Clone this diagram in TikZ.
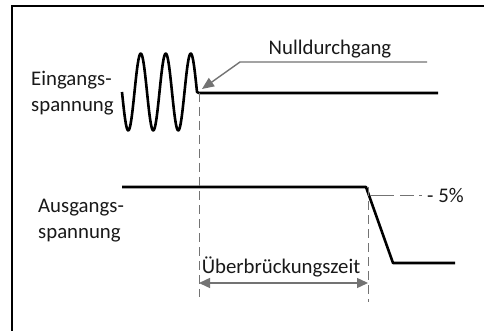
\documentclass[tikz,border=0pt]{standalone}
\usepackage{fontspec}
\setmainfont{Carlito}
\usetikzlibrary{arrows.meta}
\begin{document}
\begin{tikzpicture}[x=1pt,y=-1pt,
  sig/.style={line width=2.6pt, line join=round},
  guide/.style={draw=black!55, line width=0.9pt, dash pattern=on 9pt off 5pt},
  pointer/.style={draw=black!55, line width=1.4pt},
  lbl/.style={font=\fontsize{20.8}{26}\selectfont, inner sep=0pt, align=left, text=black!90}]
\useasboundingbox (0,0) rectangle (484,331);
\fill[white] (0,0) rectangle (484,331);
% frame (top and left edges)
\draw[line width=1.2pt] (12,331) -- (12,6) -- (484,6);
% labels
\node[lbl, anchor=west] (eing) at (31,93) {Eingangs-\\spannung};
\node[lbl, anchor=west] (ausg) at (38,221) {Ausgangs-\\spannung};
\node[lbl, anchor=base] (null) at (330,55) {Nulldurchgang};
\node[lbl, anchor=base] (ueber) at (281,273) {Überbrückungszeit};
\node[lbl, anchor=base west] (pct) at (427,202) {- 5\%};
% key coordinates
\coordinate (zc) at (199,93);
\coordinate (inEnd) at (438,93);
\coordinate (outStart) at (122,187);
\coordinate (drop) at (366,187);
\coordinate (low) at (393,263);
\coordinate (outEnd) at (455,263);
\coordinate (d1b) at (199,297);
\coordinate (d2t) at (368,187);
\coordinate (d2b) at (368,302);
\coordinate (p5s) at (370,195);
\coordinate (p5e) at (424,195);
\coordinate (nl1) at (427,62);
\coordinate (nl2) at (240,62);
\coordinate (nlTip) at (202,89);
\coordinate (aL) at (199,283);
\coordinate (aR) at (368,283);
% input signal
\draw[sig] plot[domain=122:197, samples=120, smooth] (\x,{92+38.5*sin((\x-122)*14.4)}) -- (zc) -- (inEnd);
% output signal
\draw[sig] (outStart) -- (drop) -- (low) -- (outEnd);
% dashed guides
\draw[guide] (zc) -- (d1b);
\draw[guide] (d2t) -- (d2b);
\draw[guide, dash pattern=on 24pt off 6pt on 14pt off 5pt on 3pt off 20pt] (p5s) -- (p5e);
% Nulldurchgang pointer
\draw[pointer, -{Triangle[length=12pt,width=10pt]}] (nl1) -- (nl2) -- (nlTip);
% bridging time arrow
\draw[pointer, {Triangle[length=11pt,width=10pt]}-{Triangle[length=11pt,width=10pt]}] (aL) -- (aR);
\end{tikzpicture}
\end{document}
